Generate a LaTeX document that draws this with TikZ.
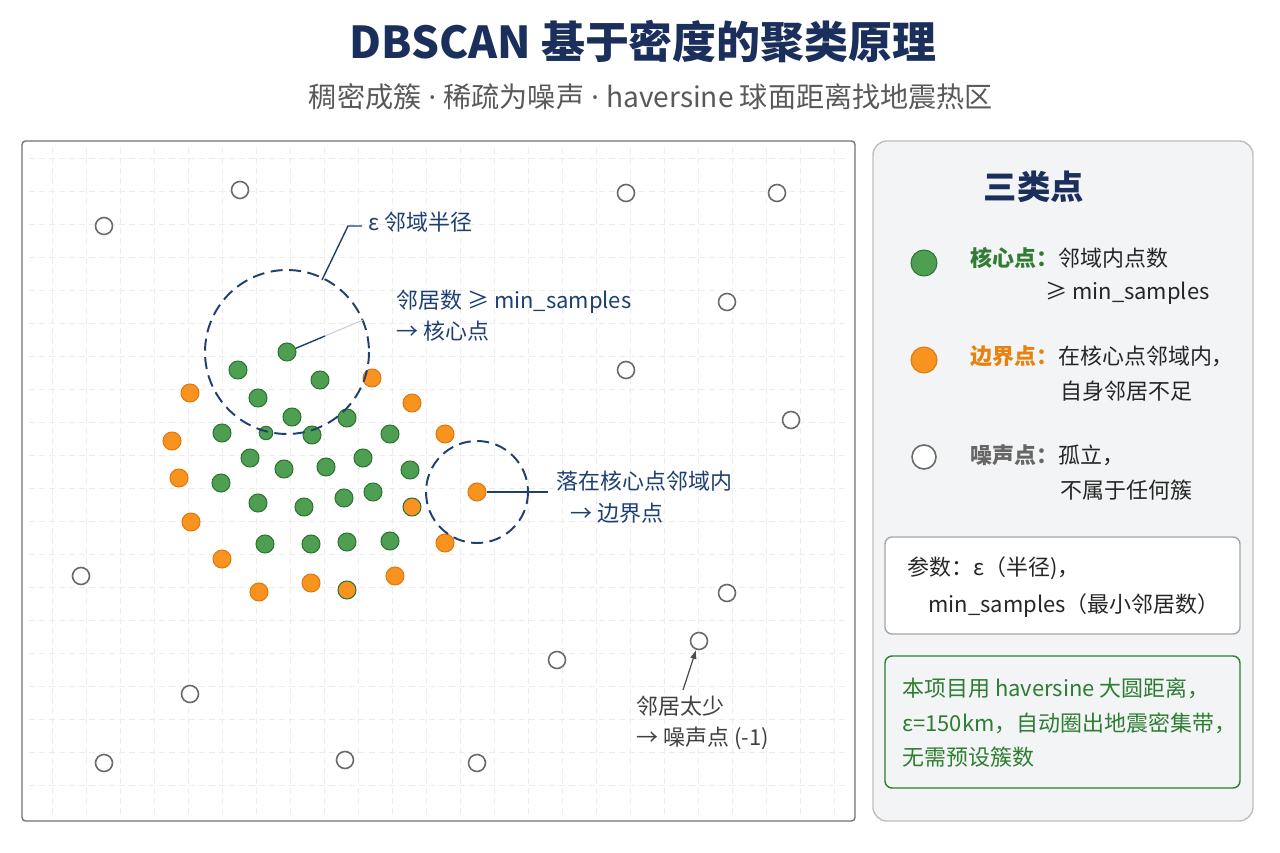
\documentclass[tikz,border=0pt]{standalone}
\usepackage{fontspec}
\setmainfont{Noto Sans CJK SC}
\newfontfamily\latinf{Noto Sans}
\usetikzlibrary{arrows.meta,positioning}
\definecolor{navy}{HTML}{1B2F5C}
\definecolor{annblue}{HTML}{1F3F73}
\definecolor{coregreen}{HTML}{4E9F52}
\definecolor{coreedge}{HTML}{2E7434}
\definecolor{bordorange}{HTML}{F7931E}
\definecolor{bordedge}{HTML}{E07A10}
\definecolor{noiseedge}{HTML}{6A6A6A}
\definecolor{panelgrey}{HTML}{F3F4F5}
\definecolor{notegreen}{HTML}{2E7D32}
\definecolor{keyorange}{HTML}{E8820E}

\begin{document}
\begin{tikzpicture}[x=0.2mm,y=-0.2mm,
  core/.style={circle,draw=coreedge,fill=coregreen,line width=0.6pt,inner sep=0pt,minimum size=3.6mm},
  bord/.style={circle,draw=bordedge,fill=bordorange,line width=0.6pt,inner sep=0pt,minimum size=3.6mm},
  noise/.style={circle,draw=noiseedge,fill=white,line width=0.9pt,inner sep=0pt,minimum size=3.4mm},
  ann/.style={text=annblue,font=\fontsize{12.5}{17.6}\selectfont,anchor=west,inner sep=0pt,align=left},
  txt/.style={text=black!85,font=\fontsize{12.5}{17.6}\selectfont,anchor=west,inner sep=0pt},
  lead/.style={draw=annblue,line width=0.8pt},
  ring/.style={draw=annblue,line width=1.1pt,dash pattern=on 2.4mm off 1.3mm},
  gridln/.style={draw=black!7,line width=0.4pt,dash pattern=on 1.2mm off 0.8mm},
  box/.style={draw=black!35,fill=white,rounded corners=4pt,line width=0.8pt,minimum width=71mm}]
\useasboundingbox[fill=white] (0,0) rectangle (1280,853);

% title
\node[font=\fontsize{25}{30}\selectfont\bfseries,text=navy] (title) at (643,42) {DBSCAN 基于密度的聚类原理};
\node[font=\fontsize{16}{19}\selectfont,text=black!65] (sub) at (651,97)
  {稠密成簇{\latinf\ ·\ }稀疏为噪声{\latinf\ ·\ }haversine 球面距离找地震热区};

% left panel with faint grid
\draw[draw=black!55,fill=white,rounded corners=2pt,line width=0.8pt] (22,141) rectangle (855,821);
\foreach \x in {52,86,...,840} \draw[gridln] (\x,148) -- (\x,814);
\foreach \y in {158,191,...,810} \draw[gridln] (29,\y) -- (848,\y);

% points
\node[core] (pc) at (287,352) {};
\foreach \p [count=\i] in {(238,370),(320,380),(258,398),(292,417),(347,418),(312,435),(222,433),
  (390,434),(250,458),(284,469),(326,467),(363,458),(410,470),(221,483),(258,503),(304,507),
  (344,498),(373,492),(265,544),(311,544),(347,542),(390,541)}
  \node[core] (c\i) at \p {};
\node[core,minimum size=2.7mm] (cs) at (266,433) {};
\node[bord] (pb) at (477,492) {};
\foreach \p [count=\i] in {(190,393),(372,378),(412,403),(445,434),(172,441),(179,478),(191,522),
  (445,543),(222,559),(259,592),(311,583),(395,576)}
  \node[bord] (b\i) at \p {};
\node[bord,draw=coreedge] (bm1) at (412,507) {};
\node[bord,draw=coreedge] (bm2) at (347,590) {};
\node[noise] (pn) at (699,641) {};
\foreach \p [count=\i] in {(240,190),(626,193),(777,193),(104,226),(727,302),(626,370),(791,420),
  (81,576),(727,593),(557,660),(190,694),(104,763),(345,760),(477,763)}
  \node[noise] (n\i) at \p {};

% eps rings
\draw[ring] (pc) circle[radius=82];
\draw[ring] (pb) circle[radius=51];
\draw[lead] (pc) -- ++(38,-16) coordinate (rm);
\draw[draw=annblue!25,line width=0.6pt] (rm) -- ++(38,-16);

% annotations
\node[ann] (eps) at (368,222) {ε 邻域半径};
\coordinate (epsc) at (322,280);
\draw[lead] ([xshift=-1.2mm,yshift=-0.8mm]eps.west) -- ++(-14,0) -- (epsc);
\node[ann] (cl) at (396,316) {邻居数 ≥ min\_samples\\→ 核心点};
\node[ann] (bl1) at (556,481) {落在核心点邻域内};
\node[ann] (bl2) at (570,513) {→ 边界点};
\draw[lead,shorten >=1.6mm] (pb) -- (pb -| bl1.west);
\node[ann,text=black!75,font=\fontsize{12.5}{18.1}\selectfont] (nl) at (636,723) {邻居太少\\→ 噪声点 (-1)};
\coordinate (nk) at (683,690);
\draw[draw=black!70,line width=0.7pt,-{Latex[length=1.8mm]}] (nk) -- (pn);

% right panel
\draw[draw=black!25,fill=panelgrey,rounded corners=8pt,line width=0.8pt] (873,141) rectangle (1253,821);
\node[font=\fontsize{19}{22}\selectfont\bfseries,text=navy] (lgt) at (1034,187) {三类点};
\node[core,minimum size=5.2mm] (lg1) at (924,263) {};
\node[bord,minimum size=5.2mm] (lg2) at (924,360) {};
\node[noise,minimum size=4.8mm] (lg3) at (924,457) {};
\node[txt] (k1) at (970,258) {\textcolor{notegreen}{\bfseries 核心点：}邻域内点数};
\node[txt] (k1b) at (1045,293) {≥ min\_samples};
\node[txt] (k2) at (970,356) {\textcolor{keyorange}{\bfseries 边界点：}在核心点邻域内，};
\node[txt] (k2b) at (1060,391) {自身邻居不足};
\node[txt] (k3) at (970,455) {\textcolor{black!60}{\bfseries 噪声点：}孤立，};
\node[txt] (k3b) at (1060,490) {不属于任何簇};

\node[box,minimum height=19.4mm] (par) at (1062.5,585.5) {};
\node[txt] (p1) at (907,568) {参数：ε（半径)，};
\node[txt] (p2) at (928,606) {min\_samples（最小邻居数）};
\node[box,draw=notegreen,fill=panelgrey,minimum height=26.4mm] (note) at (1062.5,722) {};
\node[txt,text=notegreen,align=left,font=\fontsize{12.5}{19.6}\selectfont] (nt) at (902,723)
  {本项目用 haversine 大圆距离，\\ε=150km，自动圈出地震密集带，\\无需预设簇数};
\end{tikzpicture}
\end{document}
